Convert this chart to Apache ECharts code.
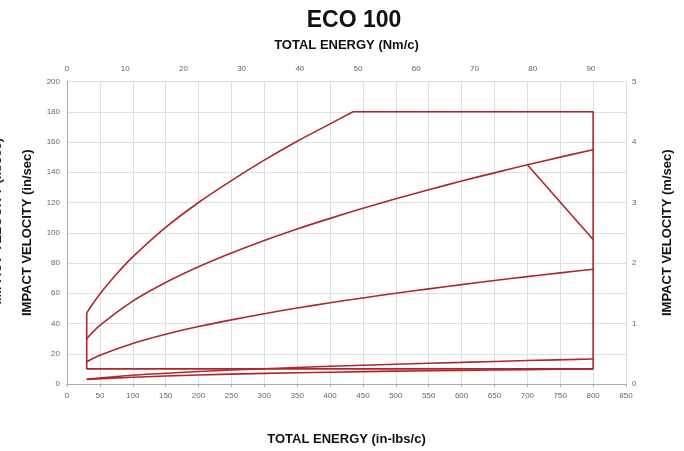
<!DOCTYPE html>
<html><head><meta charset="utf-8">
<script src="https://cdn.jsdelivr.net/npm/echarts@6/dist/echarts.min.js"></script>
<style>html,body{margin:0;padding:0;background:#fff}#c{width:684px;height:451px}</style>
</head><body><div id="c"></div>
<script>
// Energy (in-lbs/c) ticks and velocity values (in/sec)
const energyTicks = [0,50,100,150,200,250,300,350,400,450,500,550,600,650,700,750,800,850];
const nmTicks = [0,10,20,30,40,50,60,70,80,90];
const velTicks = [0,20,40,60,80,100,120,140,160,180,200];
const msTicks = [0,1,2,3,4,5];

// envelope: top horizontal, right side, bottom, left side
const envE = [435, 800, 800, 30, 30];
const envV = [180, 180, 10, 10, 47];

// upper curve (left edge to top)
const topE = [30, 40, 50, 75, 100, 150, 200, 250, 300, 350, 400, 435];
const topV = [47, 53.5, 59.5, 72.5, 84, 103.5, 120, 134.5, 148, 160.5, 172, 180];

// second curve
const midE = [30, 50, 100, 150, 200, 250, 300, 350, 400, 450, 500, 550, 600, 650, 700, 750, 800];
const midV = [30, 38.7, 54.8, 67.1, 77.5, 86.6, 94.9, 102.5, 109.5, 116.2, 122.5, 128.4, 134.2, 139.6, 144.9, 150, 154.9];

// diagonal
const diagE = [700, 800];
const diagV = [144.9, 95.5];

// third curve
const lowE = [30, 50, 100, 150, 200, 250, 300, 350, 400, 450, 500, 550, 600, 650, 700, 750, 800];
const lowV = [14.7, 19, 26.8, 32.9, 38, 42.4, 46.5, 50.2, 53.7, 56.9, 60, 62.9, 65.7, 68.4, 71, 73.5, 75.9];

// bottom curves
const bE = [30, 100, 200, 300, 400, 500, 600, 700, 800];
const bV = [3.2, 5.8, 8.3, 10.1, 11.7, 13.1, 14.3, 15.5, 16.5];
const aE = [30, 100, 200, 300, 400, 500, 600, 700, 800];
const aV = [3, 4.5, 6, 7, 7.8, 8.5, 9, 9.5, 10];

const RED = '#b0262c';
const GRID = '#dcdfe3';
const AX = '#a8a8a8';
const LBL = '#666';
const FONT = 'Liberation Sans, Arial, sans-serif';

function pts(xs, ys){ return xs.map((x,i)=>[x, ys[i]]); }
function lineSeries(xs, ys, smooth){
  return {type:'line', data: pts(xs,ys), smooth: smooth ? 0.3 : false,
    showSymbol:false, symbol:'none', silent:true,
    lineStyle:{color:RED, width:1.6}, xAxisIndex:0, yAxisIndex:0};
}

const chart = echarts.init(document.getElementById('c'), null, {renderer:'canvas'});
chart.setOption({
  animation:false,
  backgroundColor:'#fff',
  title:{text:'ECO 100', left:349, top:4, textAlign:'center',
    textStyle:{fontFamily:FONT, fontSize:23, fontWeight:'bold', color:'#111'}},
  grid:{left:67, right:58, top:81.5, bottom:63, containLabel:false},
  xAxis:[
    {type:'value', position:'bottom', min:0, max:850, interval:50,
     name:'TOTAL ENERGY (in-lbs/c)', nameLocation:'middle', nameGap:49,
     nameTextStyle:{fontFamily:FONT, fontSize:13, fontWeight:'bold', color:'#111'},
     axisLine:{show:true, lineStyle:{color:AX, width:1}},
     axisTick:{show:true, length:3, lineStyle:{color:AX}},
     axisLabel:{fontFamily:FONT, fontSize:8, color:LBL, margin:8},
     splitLine:{show:true, lineStyle:{color:GRID, width:1}}},
    {type:'value', position:'top', min:0, max:850/8.8507, interval:10,
     name:'TOTAL ENERGY (Nm/c)', nameLocation:'middle', nameGap:30,
     nameTextStyle:{fontFamily:FONT, fontSize:13, fontWeight:'bold', color:'#111'},
     axisLine:{show:true, lineStyle:{color:AX, width:1}},
     axisTick:{show:false},
     axisLabel:{fontFamily:FONT, fontSize:8, color:LBL, margin:9, showMaxLabel:false,
       formatter:v=> (Math.abs(v - Math.round(v/10)*10) < 1e-6 ? String(Math.round(v)) : '')},
     splitLine:{show:false}}
  ],
  yAxis:[
    {type:'value', position:'left', min:0, max:200, interval:20,
     name:'IMPACT VELOCITY (in/sec)', nameLocation:'middle', nameGap:33, nameRotate:90,
     nameTextStyle:{fontFamily:FONT, fontSize:13, fontWeight:'bold', color:'#111'},
     axisLine:{show:true, lineStyle:{color:AX, width:1}},
     axisTick:{show:false},
     axisLabel:{fontFamily:FONT, fontSize:8, color:LBL, margin:7},
     splitLine:{show:true, lineStyle:{color:GRID, width:1}}},
    {type:'value', position:'right', min:0, max:5, interval:1,
     name:'IMPACT VELOCITY (m/sec)', nameLocation:'middle', nameGap:35, nameRotate:90,
     nameTextStyle:{fontFamily:FONT, fontSize:13, fontWeight:'bold', color:'#111'},
     axisLine:{show:true, lineStyle:{color:AX, width:1}},
     axisTick:{show:false},
     axisLabel:{fontFamily:FONT, fontSize:8, color:LBL, margin:6},
     splitLine:{show:false}}
  ],
  graphic:[
    {type:'text', left:-9, top:138, rotation:Math.PI/2, silent:true,
     style:{text:'IMPACT VELOCITY (in/sec)', fontFamily:FONT, fontSize:13, fontWeight:'bold', fill:'#222'}}
  ],
  series:[
    lineSeries(envE, envV, false),
    lineSeries(topE, topV, true),
    lineSeries(midE, midV, true),
    lineSeries(diagE, diagV, false),
    lineSeries(lowE, lowV, true),
    lineSeries(bE, bV, true),
    lineSeries(aE, aV, true)
  ]
});
</script></body></html>
